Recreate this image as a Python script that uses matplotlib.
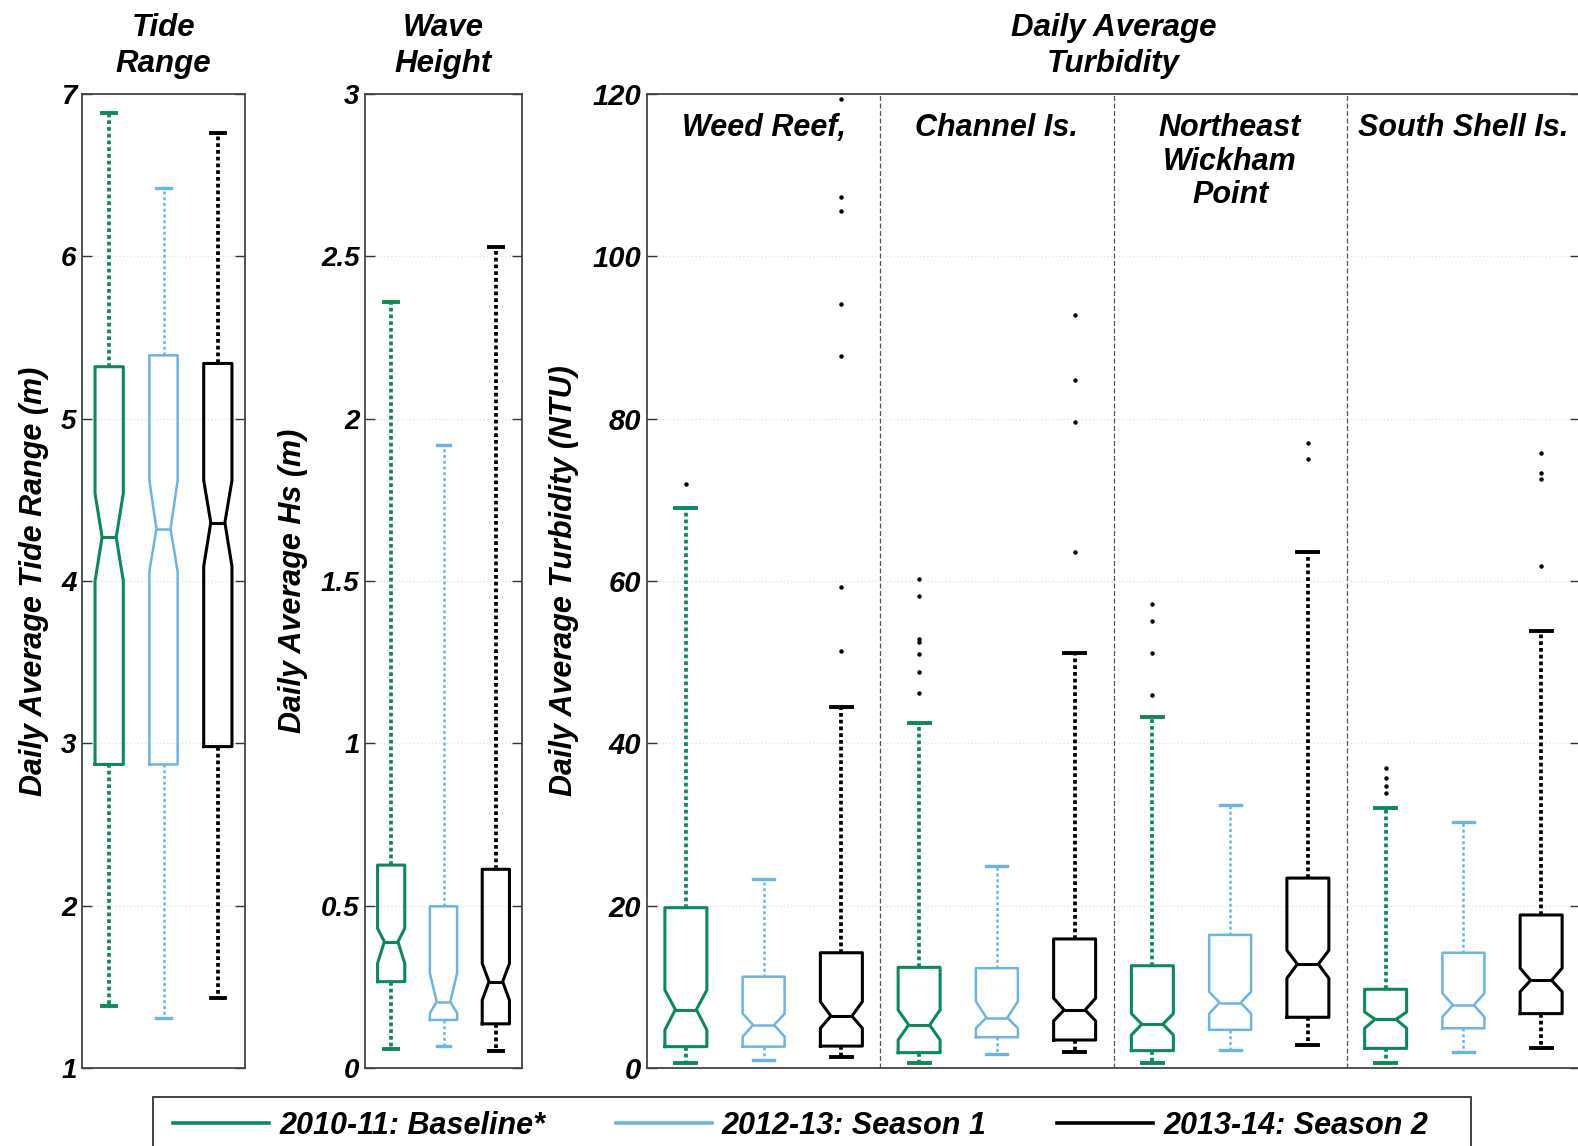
import matplotlib
matplotlib.use("Agg")
import matplotlib.pyplot as plt
from matplotlib.lines import Line2D
from matplotlib.patches import Rectangle

plt.rcParams['font.family'] = ['Liberation Sans', 'DejaVu Sans']

# seasons / colours
seasons = ['2010-11: Baseline*', '2012-13: Season 1', '2013-14: Season 2']
season_colors = ['#0B8A57', '#6CB4E4', '#000000']

# tide range (m), one value per season
tide_lo = [1.38, 1.31, 1.43]
tide_q1 = [2.87, 2.87, 2.98]
tide_cilo = [4.00, 4.06, 4.09]
tide_med = [4.27, 4.32, 4.36]
tide_cihi = [4.54, 4.62, 4.62]
tide_q3 = [5.32, 5.39, 5.34]
tide_hi = [6.88, 6.42, 6.76]
tide_ticks = [1, 2, 3, 4, 5, 6, 7]

# wave height Hs (m)
wave_lo = [0.058, 0.068, 0.053]
wave_q1 = [0.266, 0.148, 0.136]
wave_cilo = [0.322, 0.169, 0.209]
wave_med = [0.389, 0.204, 0.266]
wave_cihi = [0.430, 0.292, 0.322]
wave_q3 = [0.625, 0.498, 0.612]
wave_hi = [2.36, 1.92, 2.53]
wave_ticks = [0, 0.5, 1, 1.5, 2, 2.5, 3]
wave_ticklabels = ['0', '0.5', '1', '1.5', '2', '2.5', '3']

# turbidity (NTU), site-major: each site has baseline, season 1, season 2
sites = ['Weed Reef,', 'Channel Is.', 'Northeast\nWickham\nPoint', 'South Shell Is.']
turb_lo = [0.57, 0.99, 1.3, 0.66, 1.7, 2.0, 0.66, 2.2, 2.83, 0.57, 2.0, 2.5]
turb_q1 = [2.63, 2.63, 2.7, 1.89, 3.8, 3.45, 2.14, 4.7, 6.25, 2.42, 4.9, 6.7]
turb_cilo = [4.68, 3.86, 4.9, 3.45, 4.9, 5.8, 4.07, 6.7, 11.05, 4.9, 6.3, 9.4]
turb_med = [7.2, 5.3, 6.4, 5.3, 6.2, 7.15, 5.4, 8.05, 12.8, 6.0, 7.76, 10.8]
turb_cihi = [9.6, 6.7, 8.17, 7.15, 8.2, 8.6, 6.7, 9.4, 14.5, 6.9, 9.2, 12.3]
turb_q3 = [19.75, 11.25, 14.2, 12.4, 12.3, 15.9, 12.6, 16.4, 23.4, 9.7, 14.2, 18.85]
turb_hi = [69.0, 23.3, 44.5, 42.5, 24.9, 51.1, 43.2, 32.4, 63.6, 32.0, 30.3, 53.8]
turb_fliers = [
    [72.0], [], [51.4, 59.3, 87.7, 94.1, 105.6, 107.3, 119.4],
    [46.2, 48.8, 51.0, 52.5, 52.9, 58.2, 60.2], [], [63.6, 79.6, 84.8, 92.8],
    [46.0, 51.1, 55.1, 57.2], [], [75.0, 77.0],
    [33.9, 34.7, 35.7, 37.0], [], [61.9, 72.6, 73.3, 75.8],
]
turb_ticks = [0, 20, 40, 60, 80, 100, 120]

box_lw = [2.2, 1.8, 2.2]
whisk_lw = [2.7, 1.8, 2.7]
whisk_ls = [(0, (1.0, 0.8)), (0, (1.2, 1.1)), (0, (1.0, 0.8))]

bold_it = dict(fontweight='bold', fontstyle='italic')


def make_stats(lo, q1, cilo, med, cihi, q3, hi, fliers=None):
    out = []
    for i in range(len(med)):
        out.append(dict(whislo=lo[i], q1=q1[i], cilo=cilo[i], med=med[i],
                        cihi=cihi[i], q3=q3[i], whishi=hi[i],
                        fliers=fliers[i] if fliers else []))
    return out


def draw_boxes(ax, stats, width=0.52):
    for i, st in enumerate(stats):
        k = i % 3
        c = season_colors[k]
        ax.bxp([st], positions=[i + 1], widths=width, shownotches=True,
               showfliers=True, manage_ticks=False,
               boxprops=dict(color=c, lw=box_lw[k]),
               medianprops=dict(color=c, lw=box_lw[k]),
               whiskerprops=dict(color=c, lw=whisk_lw[k], linestyle=whisk_ls[k]),
               capprops=dict(color=c, lw=box_lw[k] + 0.6),
               flierprops=dict(marker='o', markersize=2.2, markerfacecolor='k',
                               markeredgecolor='k', linestyle='none'))


def style_axis(ax, ticks, labels, lim, size):
    ax.set_ylim(lim)
    ax.set_yticks(ticks)
    ax.set_yticklabels(labels, fontsize=size, **bold_it)
    ax.set_xticks([])
    ax.tick_params(axis='y', direction='in', length=7, width=1, right=True,
                   pad=4, color='#333333')
    for s in ax.spines.values():
        s.set_color('#444444')
        s.set_linewidth(1.3)
    ax.grid(axis='y', color='#e4e4e4', lw=1.0, linestyle=':')
    ax.set_axisbelow(True)


W, H = 1578, 1146
fig = plt.figure(figsize=(W / 100, H / 100), dpi=100)
bottom = 1 - 1068 / H
height = (1068 - 94) / H

ax1 = fig.add_axes([82 / W, bottom, 163 / W, height])
ax2 = fig.add_axes([365 / W, bottom, 157 / W, height])
ax3 = fig.add_axes([647 / W, bottom, 933 / W, height])

draw_boxes(ax1, make_stats(tide_lo, tide_q1, tide_cilo, tide_med, tide_cihi, tide_q3, tide_hi))
ax1.set_xlim(0.5, 3.5)
style_axis(ax1, tide_ticks, [str(t) for t in tide_ticks], (1, 7), 20)

draw_boxes(ax2, make_stats(wave_lo, wave_q1, wave_cilo, wave_med, wave_cihi, wave_q3, wave_hi))
ax2.set_xlim(0.5, 3.5)
style_axis(ax2, wave_ticks, wave_ticklabels, (0, 3), 20)

draw_boxes(ax3, make_stats(turb_lo, turb_q1, turb_cilo, turb_med, turb_cihi, turb_q3, turb_hi,
                           turb_fliers), width=0.54)
ax3.set_xlim(0.5, 12.5)
style_axis(ax3, turb_ticks, [str(t) for t in turb_ticks], (0, 120), 21)
for j in range(1, len(sites)):
    ax3.axvline(3 * j + 0.5, color='#555555', lw=0.9, linestyle=(0, (4, 2)))
for j, name in enumerate(sites):
    ax3.text(3 * j + 2, 1 - (113 - 94) / 974, name, transform=ax3.get_xaxis_transform(),
             ha='center', va='top', fontsize=22, linespacing=1.16, **bold_it)

# y labels (coords give the right edge of the rotated text)
ax1.set_ylabel('Daily Average Tide Range (m)', fontsize=22, **bold_it)
ax1.yaxis.set_label_coords((49 - 82) / 163, 0.5)
ax2.set_ylabel('Daily Average Hs (m)', fontsize=22, **bold_it)
ax2.yaxis.set_label_coords((308 - 365) / 157, 0.5)
ax3.set_ylabel('Daily Average Turbidity (NTU)', fontsize=22, **bold_it)
ax3.yaxis.set_label_coords((579 - 647) / 933, 0.5)

# panel titles
ty = 1 + (94 - 46) / 974
ax1.text(0.5, ty, 'Tide\nRange', transform=ax1.transAxes, ha='center', va='center',
         fontsize=22.5, linespacing=1.3, **bold_it)
ax2.text(0.5, ty, 'Wave\nHeight', transform=ax2.transAxes, ha='center', va='center',
         fontsize=22.5, linespacing=1.3, **bold_it)
ax3.text(0.5, ty, 'Daily Average\nTurbidity', transform=ax3.transAxes, ha='center',
         va='center', fontsize=22.5, linespacing=1.3, **bold_it)

# legend: frame drawn separately so it runs off the bottom edge like the original
handles = [Line2D([], [], color=c, lw=2.6) for c in season_colors]
leg = fig.legend(handles, seasons, loc='upper left', ncol=3,
                 bbox_to_anchor=(173 / W, 1 - 1111 / H), frameon=False,
                 handlelength=3.15, handletextpad=0.33, columnspacing=2.3,
                 borderpad=0, borderaxespad=0,
                 prop=dict(family='Liberation Sans', size=22, weight='bold', style='italic'))
fig.patches.append(Rectangle((153 / W, -0.02), (1471 - 153) / W, (H - 1097) / H + 0.02,
                             transform=fig.transFigure, fill=False,
                             edgecolor='#333333', lw=1.3))

fig.savefig('out.png', dpi=100)
